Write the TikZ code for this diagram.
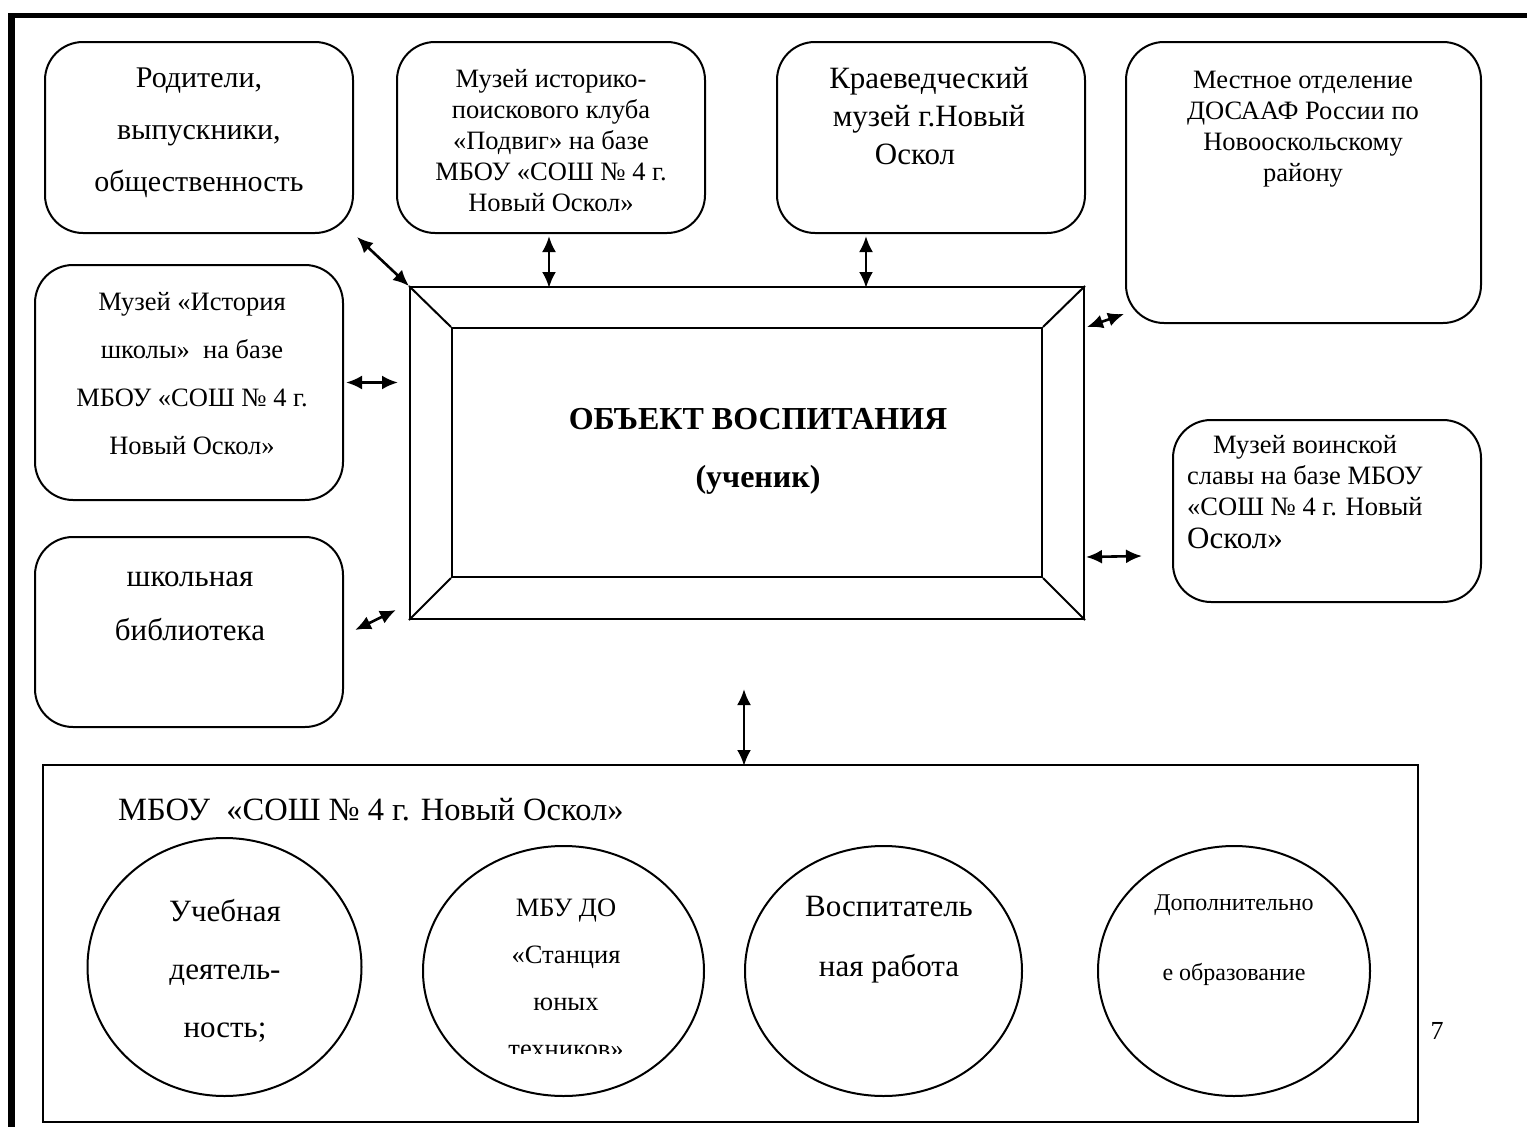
\documentclass[tikz,border=0pt]{standalone}
\usepackage{fontspec}
\setmainfont{Liberation Serif}
\usetikzlibrary{arrows.meta,calc,shapes.geometric}
\newcommand\myfs[2]{\fontsize{#1}{#2}\selectfont}
\begin{document}
\begin{tikzpicture}[x=1pt,y=-1pt,
  rbox/.style n args={2}{draw, line width=2pt, rounded corners=38pt, minimum width=#1, minimum height=#2, inner sep=0pt},
  sqbox/.style n args={2}{draw, line width=2pt, minimum width=#1, minimum height=#2, inner sep=0pt},
  oval/.style={draw, ellipse, line width=2pt, minimum width=274pt, minimum height=250pt, inner sep=0pt},
  txt/.style={align=center, inner sep=0pt},
  dbl/.style={{Latex[length=16pt,width=14pt]}-{Latex[length=16pt,width=14pt]}, line width=2.6pt}]
\useasboundingbox (0,0) rectangle (1527,1127);
% page border
\fill (8,13) rectangle (1527,18);
\fill (8,13) rectangle (15,1127);

% top boxes
\node[rbox={308pt}{191pt}] (par) at (199,137.5) {};
\node[txt, font=\myfs{30}{52}] (partxt) at (199,133) {Родители,\\выпускники,\\общественность};

\node[rbox={308pt}{191pt}] (mus1) at (551,137.5) {};
\node[txt, font=\myfs{26.5}{31}] (mus1txt) at (551,141) {Музей историко-\\поискового клуба\\«Подвиг» на базе\\МБОУ «СОШ № 4 г.\\Новый Оскол»};

\node[rbox={308pt}{191pt}] (kray) at (931,137.5) {};
\node[txt, font=\myfs{31}{38}] (kraytxt) at (929,116) {Краеведческий\\музей г.Новый\\Оскол\hspace*{28pt}};

\node[rbox={355pt}{281pt}] (dos) at (1303.5,182.5) {};
\node[txt, font=\myfs{26.5}{31}] (dostxt) at (1303,129) {Местное отделение\\ДОСААФ России по\\Новооскольскому\\району};

% left boxes
\node[rbox={308pt}{235pt}] (hist) at (189,382.5) {};
\node[txt, font=\myfs{26.5}{48}] (histtxt) at (192,374) {Музей «История\\школы»\ \ на базе\\МБОУ «СОШ № 4 г.\\Новый Оскол»};

\node[rbox={308pt}{190pt}] (lib) at (189,632) {};
\node[txt, font=\myfs{31}{54}] (libtxt) at (190,606) {школьная\\библиотека};

% right box
\node[rbox={308pt}{182pt}] (voin) at (1327,511) {};
\node[align=left, inner sep=0pt, anchor=north west, font=\myfs{26.5}{31}] (vointxt) at (1187,435)
  {\hspace*{26pt}Музей воинской\\славы на базе МБОУ\\«СОШ № 4 г. Новый\\[2pt]{\myfs{31}{33}Оскол»}};

% central frame
\node[sqbox={674pt}{332pt}] (frame) at (747,453) {};
\node[sqbox={590pt}{249pt}] (inner) at (747,452.5) {};
\draw[line width=2pt] (frame.north west) -- (inner.north west)
  (frame.north east) -- (inner.north east)
  (frame.south west) -- (inner.south west)
  (frame.south east) -- (inner.south east);
\node[txt, font={\myfs{32}{58}\bfseries}] (obj) at (758,451) {ОБЪЕКТ ВОСПИТАНИЯ\\(ученик)};

% bottom block
\node[sqbox={1375pt}{357pt}] (school) at (730.5,943.5) {};
\node[anchor=west, inner sep=0pt, font=\myfs{32.5}{38}] (schooltxt) at (118,810) {МБОУ\ \ «СОШ № 4 г. Новый Оскол»};

\node[oval, minimum width=274pt, minimum height=258pt] (e1) at (224.5,967) {};
\node[txt, font=\myfs{31}{58}] (e1txt) at (225,971) {Учебная\\деятель-\\ность;};

\node[oval, minimum width=281pt] (e2) at (563.5,971) {};
\begin{scope}
\clip (420,840) rectangle (710,1053);
\node[txt, font=\myfs{26.5}{47}] (e2txt) at (566,978) {МБУ ДО\\«Станция\\юных\\техников»};
\end{scope}

\node[oval, minimum width=277pt] (e3) at (883.5,971) {};
\node[txt, font=\myfs{31}{60}] (e3txt) at (889,940) {Воспитатель\\ная работа};

\node[oval, minimum width=272pt] (e4) at (1234,971) {};
\node[txt, font=\myfs{24}{70}] (e4txt) at (1234,940) {Дополнительно\\е образование};

\node[inner sep=0pt, font=\myfs{26}{30}] (pg) at (1437,1031) {7};

% connectors
\draw[dbl] ($(par.south east)+(3,3)$) -- (frame.north west);
\draw[dbl] ($(mus1.south)+(-2,2)$) -- ($(mus1.south)+(-2,54)$);
\draw[dbl] ($(kray.south)+(-65,2)$) -- ($(kray.south)+(-65,54)$);
\draw[dbl] ($(frame.north east)+(2,41)$) -- ($(dos.south west)+(-1,-10)$);
\draw[dbl] ($(hist.east)+(2,0)$) -- ($(hist.east)+(54,0)$);
\draw[dbl] ($(lib.east)+(11,-2)$) -- ($(frame.south west)+(-13,-10)$);
\draw[dbl] ($(frame.south east)+(1,-63)$) -- ($(voin.west)+(-30,45)$);
\draw[dbl] ($(frame.south)+(-3,69)$) -- ($(frame.south)+(-3,146)$);
\end{tikzpicture}
\end{document}
